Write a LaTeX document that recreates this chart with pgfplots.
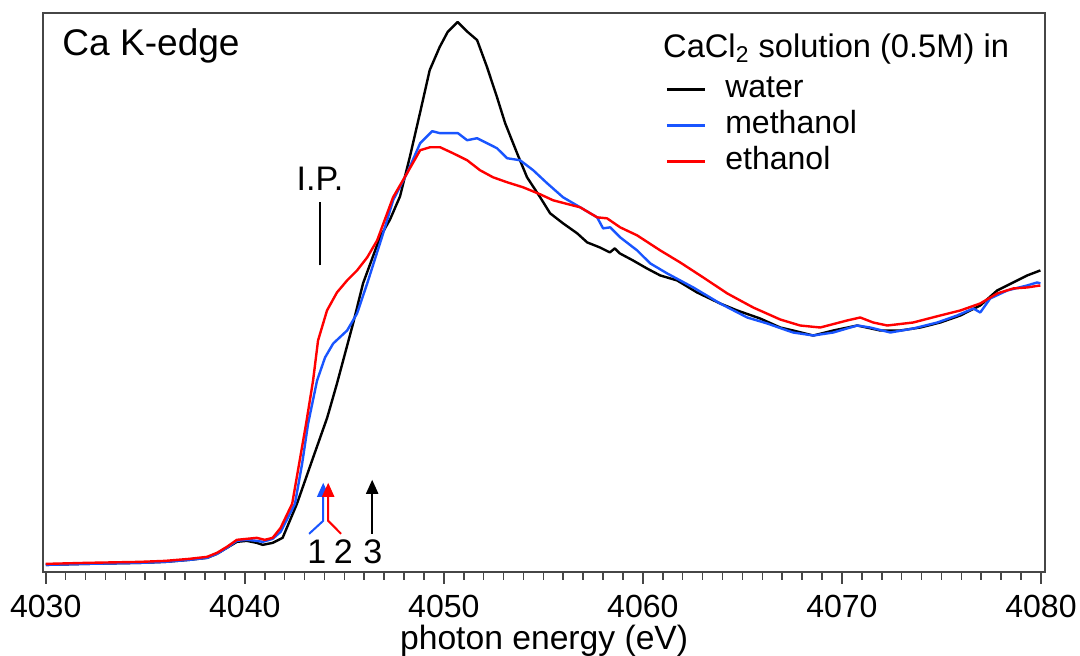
\documentclass[border=0pt]{standalone}
\usepackage{pgfplots}
\pgfplotsset{compat=1.18}
\usepackage{fontspec}
\setmainfont{Liberation Sans}
\usetikzlibrary{arrows.meta}
\definecolor{cblue}{RGB}{25,85,255}
\definecolor{cred}{RGB}{255,0,0}
\definecolor{axgray}{RGB}{70,70,70}
\begin{document}
\begin{tikzpicture}
\begin{axis}[
 scale only axis, width=500pt, height=279pt,
 xmin=4029.88, xmax=4080.2, ymin=0, ymax=558,
 axis line style={axgray, line width=1pt},
 xtick={4030,4040,4050,4060,4070,4080}, minor x tick num=9,
 xtick pos=bottom, ytick=\empty, tick align=outside,
 major tick length=6pt, minor tick length=4pt,
 every major tick/.append style={axgray, line width=0.8pt},
 every minor tick/.append style={axgray, line width=0.8pt},
 /pgf/number format/assume math mode=true,
 /pgf/number format/set thousands separator={},
 xticklabel style={font=\fontsize{16}{19}\selectfont, anchor=base, inner sep=0pt, yshift=-17pt},
 xlabel={photon energy (eV)},
 xlabel style={font=\fontsize{16.8}{20}\selectfont, inner sep=0pt, at={(axis description cs:0.5,0)}, anchor=base, yshift=-38.5pt},
 clip=false,
 legend style={at={(axis cs:4061.12,496)}, anchor=north west, draw=none, fill=none, inner sep=0pt,
   font=\fontsize{16}{19}\selectfont, row sep=4pt,
   nodes={inner sep=0pt, text height=11pt, text depth=3pt},
   cells={anchor=west},
   /tikz/every odd column/.append style={column sep=9.5pt}},
 legend image code/.code={\draw[#1, line width=1.3pt] (0pt,0pt) -- (19pt,0pt);},
 every axis plot/.append style={line width=1.2pt, line join=round, mark=none},
]
% water
\addplot[black] coordinates {
(4030.0,7)(4032,8)(4034.7,9)(4036,10)(4037.2,12)(4038.1,14)(4038.6,18)(4039.1,24)(4039.6,30)(4040.1,31)(4040.6,29)(4040.9,27)(4041.4,29)(4041.9,34)
(4042.62,68)(4043.43,114)(4044.14,154)(4044.63,188)(4045.44,248)(4045.94,288)(4046.79,334)(4047.3,352)(4047.80,375)(4048.3,415)(4048.8,458)(4049.29,501)(4049.79,524)(4050.19,539)(4050.69,549)
(4051.2,539)(4051.67,531)(4052.17,504)(4052.67,474)(4053.08,448)(4053.68,418)(4054.18,394)(4054.84,374)(4055.34,358)(4055.99,348)(4056.70,338)(4057.20,329)
(4057.83,324)(4058.34,319)(4058.59,323)(4058.84,318)(4059.50,311)(4060.20,303)(4060.87,296)(4061.72,291)(4062.72,279)(4063.88,268)(4064.74,261)(4065.89,253)
(4066.90,244)(4067.55,241)(4068.56,236)(4069.56,241)(4070.77,246)(4071.93,241)(4072.93,241)(4073.94,244)(4074.94,249)(4075.95,256)(4076.95,266)(4077.80,281)
(4078.61,289)(4079.31,296)(4079.97,301)
};
\addlegendentry{water}
% methanol
\addplot[cblue] coordinates {
(4030.0,7)(4032,8)(4034.7,9)(4036,10)(4037.2,12)(4038.1,14)(4038.6,18)(4039.1,24)(4039.6,31)(4040.1,32)(4040.6,31)(4040.9,30)(4041.4,33)(4041.8,40)
(4042.52,68)(4042.88,108)(4043.18,148)(4043.63,191)(4044.03,214)(4044.44,228)(4045.14,241)(4045.64,258)(4046.15,288)(4046.95,338)(4047.45,371)(4048.15,398)
(4048.81,428)(4049.41,440)(4049.81,438)(4050.31,438)(4050.71,438)(4051.17,431)(4051.67,433)(4052.17,428)(4052.67,423)(4053.18,413)(4053.83,411)(4054.49,401)
(4055.19,388)(4055.99,374)(4056.85,364)(4057.70,354)(4058.0,343)(4058.36,344)(4058.86,334)(4059.71,321)(4060.37,308)(4061.22,298)(4062.53,284)(4063.88,268)
(4065.24,254)(4066.25,248)(4067.25,241)(4067.55,239)(4068.56,236)(4069.56,239)(4070.77,246)(4071.42,244)(4072.43,239)(4073.58,243)(4074.79,249)(4075.79,256)
(4076.6,263)(4076.95,259)(4077.45,273)(4078.31,281)(4079.31,286)(4079.81,289)(4079.97,288)
};
\addlegendentry{methanol}
% ethanol
\addplot[cred] coordinates {
(4030.0,8)(4032,9)(4034.7,10)(4036,11)(4037.2,13)(4038.1,15)(4038.6,19)(4039.1,25)(4039.6,32)(4040.1,33)(4040.6,34)(4041.0,32)(4041.4,34)(4041.8,44)
(4042.38,68)(4042.73,108)(4043.08,148)(4043.43,191)(4043.68,231)(4043.83,241)(4044.13,261)(4044.63,279)(4045.14,291)(4045.64,301)(4046.15,314)(4046.65,331)
(4047.45,374)(4048.15,398)(4048.81,421)(4049.31,424)(4049.81,424)(4050.46,418)(4051.17,411)(4051.82,401)(4052.47,394)(4053.18,389)(4053.98,384)(4054.84,377)
(4055.49,371)(4056.85,364)(4057.70,354)(4058.20,353)(4058.86,344)(4059.71,336)(4060.87,321)(4061.87,309)(4063.03,294)(4064.24,278)(4065.54,264)(4066.90,252)
(4067.90,246)(4068.91,244)(4070.26,251)(4070.92,254)(4071.57,249)(4072.28,246)(4073.58,249)(4074.94,256)(4075.95,261)(4076.95,268)(4077.80,278)(4078.61,283)
(4079.31,284)(4079.97,286)
};
\addlegendentry{ethanol}
% annotations
\draw[black, line width=1.3pt] (axis cs:4043.78,306) -- (axis cs:4043.78,369);
\node[anchor=base, inner sep=0pt, font=\fontsize{17}{20}\selectfont] at (axis cs:4043.78,381) {I.P.};
\draw[cblue, line width=1pt, -{Triangle[length=7pt,width=6pt]}] (axis cs:4043.23,38) -- (axis cs:4043.94,51) -- (axis cs:4043.94,89);
\draw[cred, line width=1pt, -{Triangle[length=7pt,width=6pt]}] (axis cs:4044.84,38) -- (axis cs:4044.19,51) -- (axis cs:4044.19,89);
\draw[black, line width=1pt, -{Triangle[length=7pt,width=6pt]}] (axis cs:4046.40,38) -- (axis cs:4046.40,92);
\node[anchor=base, inner sep=0pt, font=\fontsize{17}{20}\selectfont] at (axis cs:4043.62,8) {1};
\node[anchor=base, inner sep=0pt, font=\fontsize{17}{20}\selectfont] at (axis cs:4044.95,8) {2};
\node[anchor=base, inner sep=0pt, font=\fontsize{17}{20}\selectfont] at (axis cs:4046.43,8) {3};
\node[anchor=base west, inner sep=0pt, font=\fontsize{18.5}{22}\selectfont] at (axis cs:4030.82,516) {Ca K-edge};
\node[anchor=base west, inner sep=0pt, font=\fontsize{16.3}{19}\selectfont] at (axis cs:4061.0,514) {CaCl\textsubscript{2} solution (0.5M) in};
\end{axis}
\path (current axis.south west) ++(-21.65pt,-41pt);
\path (current axis.north east) ++(17.5pt,6.5pt);
\end{tikzpicture}
\end{document}
